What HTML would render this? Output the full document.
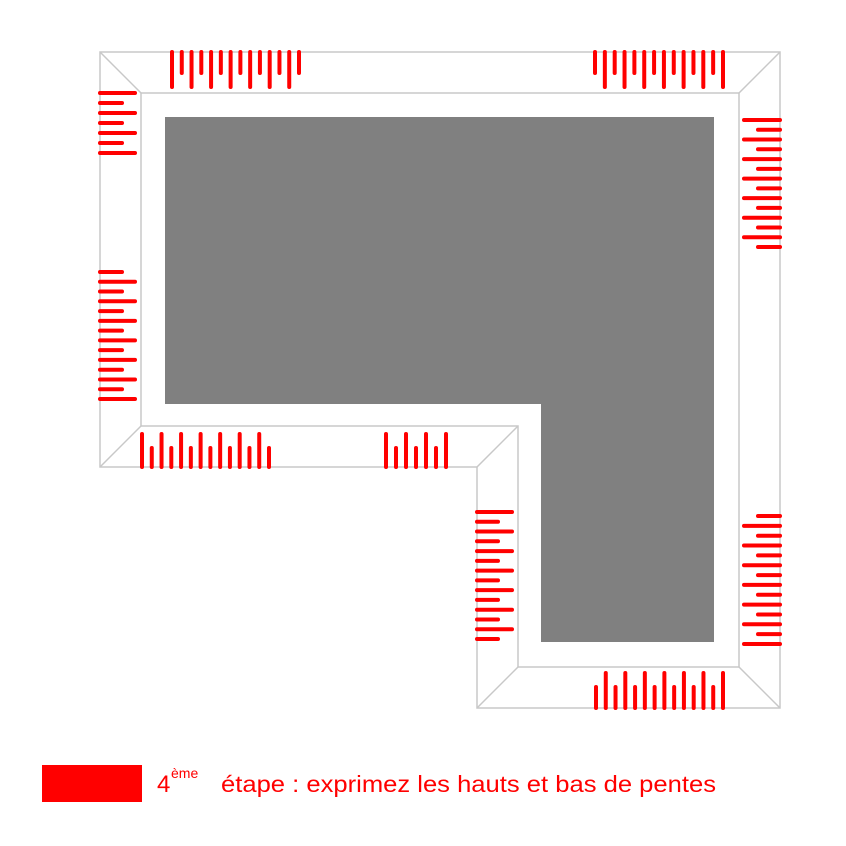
<!DOCTYPE html>
<html><head><meta charset="utf-8"><style>html,body{margin:0;padding:0;background:#fff;width:846px;height:846px;overflow:hidden}</style></head>
<body>
<svg id="s" width="846" height="846" viewBox="0 0 846 846" xmlns="http://www.w3.org/2000/svg">
<rect width="846" height="846" fill="#fff"/>
<g fill="none" stroke="#c8c8c8" stroke-width="1.5">
<polygon points="100,52 780,52 780,708 477,708 477,467 100,467"/>
<polygon points="141,93 739,93 739,667 518,667 518,426 141,426"/>
<line x1="100" y1="52" x2="141" y2="93"/>
<line x1="780" y1="52" x2="739" y2="93"/>
<line x1="780" y1="708" x2="739" y2="667"/>
<line x1="477" y1="708" x2="518" y2="667"/>
<line x1="477" y1="467" x2="518" y2="426"/>
<line x1="100" y1="467" x2="141" y2="426"/>
</g>
<path d="M165,117H714V642H541V404H165Z" fill="#808080"/>
<g id="t" stroke="#ff0000" stroke-width="4" stroke-linecap="round"></g>
<rect x="42" y="765" width="100" height="37" fill="#ff0000"/>
<text x="157" y="792" font-family="Liberation Sans, sans-serif" font-size="24" fill="#ff0000">4</text>
<text x="171" y="778" font-family="Liberation Sans, sans-serif" font-size="14" fill="#ff0000">ème</text>
<text x="221" y="792" font-family="Liberation Sans, sans-serif" font-size="23" fill="#ff0000" textLength="495" lengthAdjust="spacingAndGlyphs">étape : exprimez les hauts et bas de pentes</text>
</svg>
<script>
var g=document.getElementById('t'),h='';
function L(a,b,c,d){h+='<line x1="'+a+'" y1="'+b+'" x2="'+c+'" y2="'+d+'"/>';}
function V(x0,x1,n,sl,base,le,se){for(var i=0;i<n;i++){var x=x0+(x1-x0)*i/(n-1);var lg=(i%2==0)==sl;L(x,base,x,lg?le:se);}}
function H(y0,y1,n,sl,base,le,se){for(var i=0;i<n;i++){var y=y0+(y1-y0)*i/(n-1);var lg=(i%2==0)==sl;L(base,y,lg?le:se,y);}}
V(172,299,14,true,52,87,73);
V(595,723,14,false,52,87,73);
H(93,153,7,true,100,135,122);
H(272,399,14,false,100,135,122);
V(142,269,14,true,467,434,448);
V(386,446,7,true,467,434,448);
H(120,247,14,true,780,744,758);
H(512,639,14,true,477,512,498);
H(516,644,14,false,780,744,758);
V(596,723,14,false,708,673,687);
g.innerHTML=h;
</script>
</body></html>
